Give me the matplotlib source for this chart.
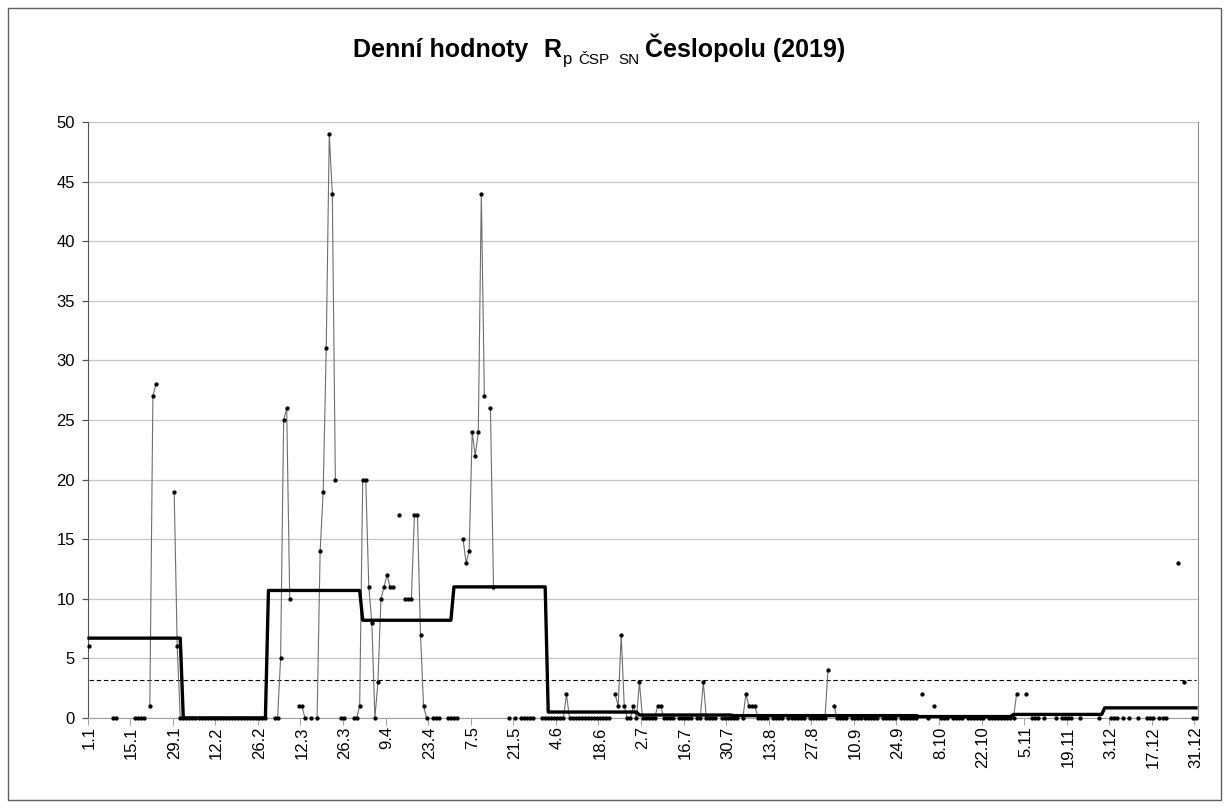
import numpy as np
import matplotlib
matplotlib.use('Agg')
import matplotlib.pyplot as plt
from matplotlib.patches import Rectangle

plt.rcParams['font.family'] = ['Liberation Sans', 'DejaVu Sans']

n = np.nan
# daily values per month (nan = no value that day)
jan = [6, n, n, n, n, n, n, n, 0, 0, n, n, n, n, n, 0, 0, 0, 0, n, 1, 27, 28, n, n, n, n, n, 19, 6, 0]
feb = [0] * 28
mar = [n, n, 0, 0, 5, 25, 26, 10, n, n, 1, 1, 0, n, 0, n, 0, 14, 19, 31, 49, 44, 20, n, 0, 0, n, n, 0, 0, 1]
apr = [20, 20, 11, 8, 0, 3, 10, 11, 12, 11, 11, n, 17, n, 10, 10, 10, 17, 17, 7, 1, 0, n, 0, 0, 0, n, n, 0, 0]
may = [0, 0, n, 15, 13, 14, 24, 22, 24, 44, 27, n, 26, 11, n, n, n, n, 0, n, 0, n, 0, 0, 0, 0, 0, n, n, 0, 0]
jun = [0, 0, 0, 0, 0, 0, 2, 0, 0, 0, 0, 0, 0, 0, 0, 0, 0, 0, 0, 0, 0, n, 2, 1, 7, 1, 0, 0, 1, 0]
jul = [3, 0, 0, 0, 0, 0, 1, 1, 0, 0, 0, 0, n, 0, 0, 0, 0, 0, n, 0, 0, 3, 0, 0, 0, 0, n, 0, 0, 0, 0]
aug = [0, 0, n, 0, 2, 1, 1, 1, 0, 0, 0, 0, n, 0, 0, 0, 0, n, 0, 0, 0, 0, 0, 0, n, 0, 0, 0, 0, 0, 0]
sep = [4, n, 1, 0, 0, 0, 0, n, 0, 0, 0, 0, 0, 0, 0, 0, 0, n, 0, 0, 0, 0, 0, n, 0, 0, 0, 0, 0, 0]
octo = [n, 2, n, 0, n, 1, n, 0, 0, 0, n, 0, 0, 0, 0, n, 0, 0, 0, 0, 0, 0, n, 0, 0, 0, 0, 0, 0, 0, 0]
nov = [0, 2, n, n, 2, n, 0, 0, 0, n, 0, n, n, n, 0, n, 0, 0, 0, 0, n, n, 0, n, n, n, n, n, 0, n]
dec = [n, n, 0, 0, 0, n, 0, n, 0, n, n, 0, n, n, 0, 0, 0, n, 0, 0, 0, n, n, n, 13, n, 3, n, n, 0, 0]

months = [jan, feb, mar, apr, may, jun, jul, aug, sep, octo, nov, dec]
# monthly averages (thick line) and the year level (dashed line)
month_mean = [6.7, 0.0, 10.7, 8.2, 11.0, 0.5, 0.25, 0.2, 0.2, 0.12, 0.3, 0.85]
year_mean = 3.15

tick_labels = ['1.1', '15.1', '29.1', '12.2', '26.2', '12.3', '26.3', '9.4', '23.4',
               '7.5', '21.5', '4.6', '18.6', '2.7', '16.7', '30.7', '13.8', '27.8',
               '10.9', '24.9', '8.10', '22.10', '5.11', '19.11', '3.12', '17.12', '31.12']

daily = np.concatenate([np.array(m, dtype=float) for m in months])
days = np.arange(len(daily))
mean_line = np.repeat(month_mean, [len(m) for m in months])

W, H = 1229, 809
fig = plt.figure(figsize=(W / 100, H / 100), dpi=100)
ax = fig.add_axes([87.5 / W, 1 - 718 / H, 1110 / W, 596 / H])

ax.plot(days, daily, '-', color='#6e6e6e', lw=0.8, clip_on=False, zorder=3)
ax.plot(days, daily, 'o', color='black', ms=3.1, mew=0, clip_on=False, zorder=4)
ax.plot(days, mean_line, '-', color='black', lw=2.4, clip_on=False, zorder=5)
ax.plot(days, np.full(len(days), year_mean), '--', color='black', lw=0.8,
        dashes=(4, 2.5), zorder=2)

ax.set_xlim(-0.5, len(days) - 0.5)
ax.set_ylim(0, 50)
ax.set_yticks(np.arange(0, 51, 5))
ax.grid(axis='y', color='#c4c4c4', lw=0.9)
ax.set_axisbelow(True)

ax.set_xticks(np.arange(0, len(days), 14))
ax.set_xticklabels(tick_labels, rotation=90, fontsize=12)
ax.set_xticks(np.arange(-0.5, len(days), 14), minor=True)
ax.tick_params(axis='x', which='major', length=0, pad=6)
ax.tick_params(axis='x', which='minor', length=5, color='#909090', direction='out')
ax.tick_params(axis='y', length=4, width=0.9, color='#555555', labelsize=12, pad=5)

ax.spines['top'].set_visible(False)
ax.spines['left'].set_color('#555555')
ax.spines['bottom'].set_color('#a0a0a0')
ax.spines['right'].set_color('#909090')

# title in pieces: bold text, R with a smaller regular subscript
def title_part(x, y, s, size, weight):
    fig.text(x / W, 1 - y / H, s, ha='left', va='baseline',
             fontsize=size, fontweight=weight)

title_part(353, 57, 'Denní hodnoty', 18, 'bold')
title_part(543, 57, 'R', 18, 'bold')
title_part(563, 64, 'p', 12, 'normal')
title_part(578, 64, 'ČSP', 11, 'normal')
title_part(618, 64, 'SN', 11, 'normal')
title_part(645, 57, 'Česlopolu (2019)', 18, 'bold')

fig.patches.append(Rectangle((8 / W, 9 / H), 1213 / W, 792 / H,
                             transform=fig.transFigure, fill=False,
                             edgecolor='#606060', lw=1))

fig.savefig('out.png', dpi=100)
